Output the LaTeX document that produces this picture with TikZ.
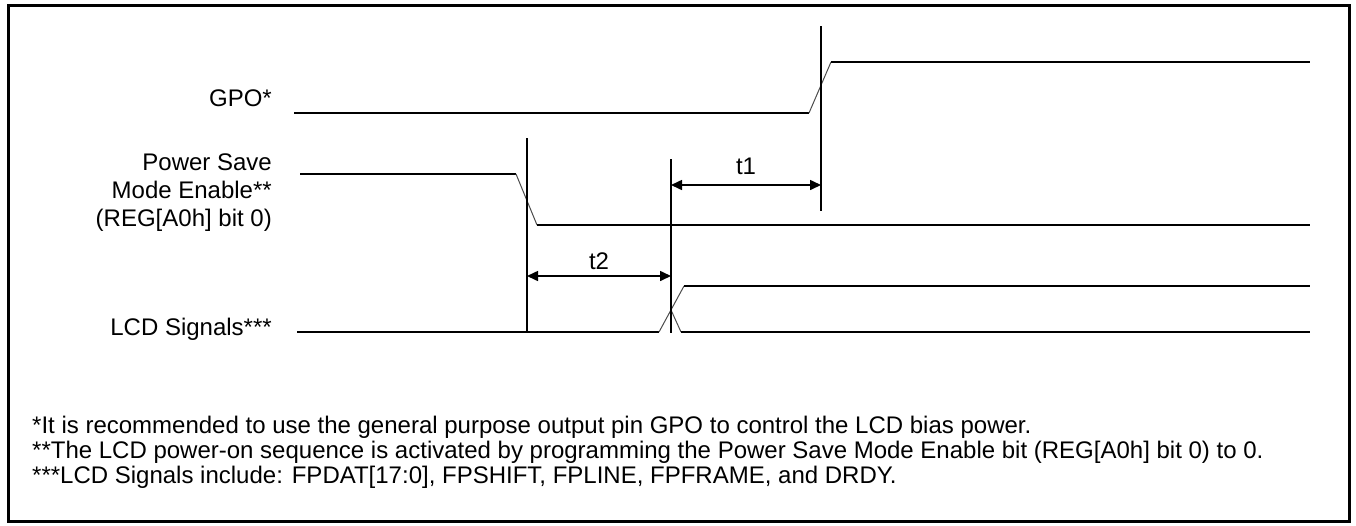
\documentclass[tikz,border=0pt]{standalone}
\usepackage{fontspec}
\setmainfont{Liberation Sans}
\usetikzlibrary{arrows.meta}
\tikzset{
	sig/.style={line width=2pt, color=black},
	edge/.style={line width=1pt, color=black!70},
	tmark/.style={line width=1.6pt, color=black},
	span/.style={line width=1.6pt, {Triangle[length=11pt,width=10pt]}-{Triangle[length=11pt,width=10pt]}},
	lbl/.style={font=\fontsize{24}{28}\selectfont, inner sep=0pt, anchor=base east},
	tlbl/.style={font=\fontsize{24}{28}\selectfont, inner sep=0pt},
	note/.style={font=\fontsize{24}{28}\selectfont, inner sep=0pt, anchor=base west}
}

\begin{document}
\begin{tikzpicture}[x=1pt, y=-1pt]
		%%%%% START %%%%%
		\useasboundingbox (0, 0) rectangle (1356, 525);
		\draw[line width=3pt] (8, 5) rectangle (1349, 521);
		
		% labels
		\node[lbl] (gpo) at (272, 106) {GPO*};
		\node[lbl] (pse1) at (272, 170) {Power Save};
		\node[lbl] (pse2) at (272, 198) {Mode Enable**};
		\node[lbl] (pse3) at (272, 226) {(REG[A0h] bit 0)};
		\node[lbl] (lcd) at (272, 335) {LCD Signals***};
		
		% GPO
		\draw[sig] (294, 113) -- (809, 113);
		\draw[edge] (809, 113) -- (831, 62);
		\draw[sig] (831, 62) -- (1310, 62);
		
		% Power Save Mode Enable
		\draw[sig] (300, 174) -- (516, 174);
		\draw[edge] (516, 174) -- (537, 225);
		\draw[sig] (537, 225) -- (1310, 225);
		
		% LCD signals
		\draw[sig] (297, 332) -- (659, 332);
		\draw[edge] (659, 332) -- (684, 286);
		\draw[sig] (684, 286) -- (1310, 286);
		\draw[edge] (671, 310) -- (681, 332);
		\draw[sig] (681, 332) -- (1310, 332);
		
		% timing marks
		\draw[tmark] (527, 138) -- (527, 333);
		\draw[tmark] (671, 159) -- (671, 333);
		\draw[tmark] (821, 26) -- (821, 211);
		
		\draw[span] (527, 276) -- (671, 276);
		\node[tlbl] (t2) at (599, 261) {t2};
		\draw[span] (671, 185) -- (821, 185);
		\node[tlbl] (t1) at (746, 166) {t1};
		
		% notes
		\node[note] (n1) at (32, 433) {*It is recommended to use the general purpose output pin GPO to control the LCD bias power.};
		\node[note] (n2) at (32, 458) {**The LCD power-on sequence is activated by programming the Power Save Mode Enable bit (REG[A0h] bit 0) to 0.};
		\node[note] (n3) at (32, 483) {***LCD Signals include: FPDAT[17:0], FPSHIFT, FPLINE, FPFRAME, and DRDY.};
		%%%%% END %%%%%
\end{tikzpicture}
\end{document}
